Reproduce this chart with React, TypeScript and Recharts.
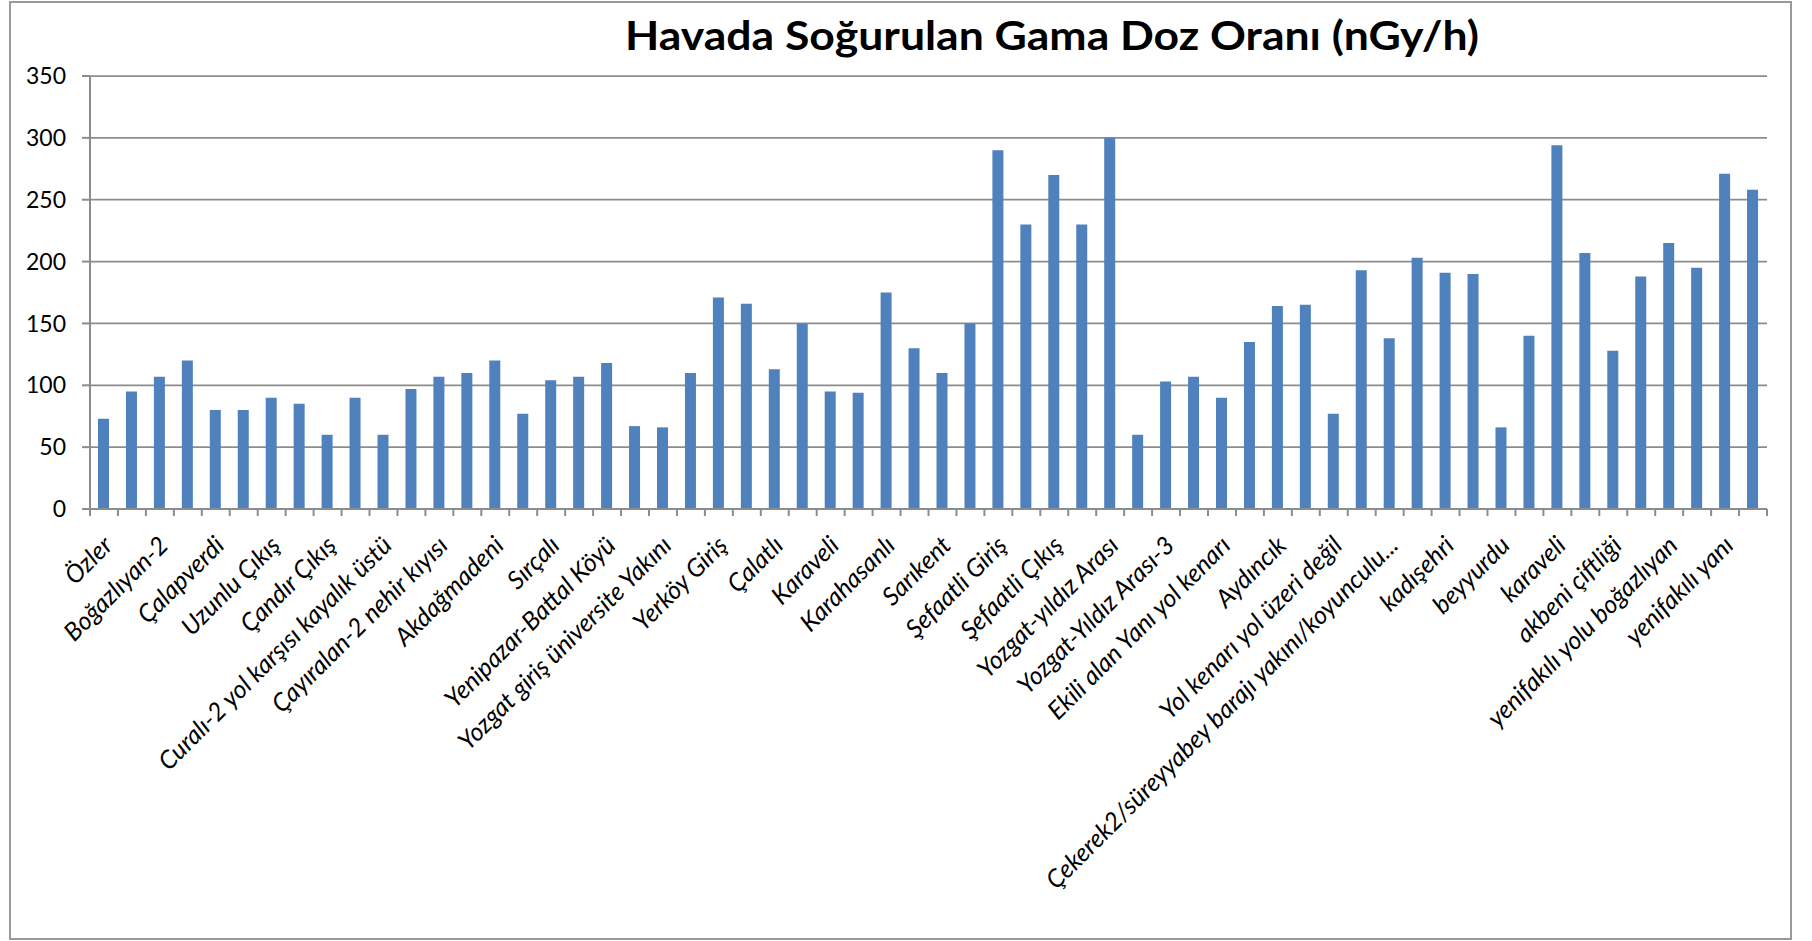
import { BarChart, Bar, XAxis, YAxis, CartesianGrid } from "recharts";

const W = 1812;
const H = 941;
const PLOT_LEFT = 90;
const PLOT_RIGHT = 1767;
const PLOT_TOP = 76;
const PLOT_BOTTOM = 509;
const STEP = (PLOT_RIGHT - PLOT_LEFT) / 60;
const GRID = "#8c8c8c";
const FONT = "Lato, 'Open Sans', sans-serif";

// only every other category is labelled in the original; the rest stay blank
const locations = [
  "Özler", "",
  "Boğazlıyan-2", "",
  "Çalapverdi", "",
  "Uzunlu Çıkış", "",
  "Çandır Çıkış", "",
  "Curalı-2 yol karşısı kayalık üstü", "",
  "Çayıralan-2 nehir kıyısı", "",
  "Akdağmadeni", "",
  "Sırçalı", "",
  "Yenipazar-Battal Köyü", "",
  "Yozgat giriş üniversite Yakını", "",
  "Yerköy Giriş", "",
  "Çalatlı", "",
  "Karaveli", "",
  "Karahasanlı", "",
  "Sarıkent", "",
  "Şefaatli Giriş", "",
  "Şefaatli Çıkış", "",
  "Yozgat-yıldız Arası", "",
  "Yozgat-Yıldız Arası-3", "",
  "Ekili alan Yanı yol kenarı", "",
  "Aydıncık", "",
  "Yol kenarı yol üzeri değil", "",
  "Çekerek2/süreyyabey barajı yakını/koyunculu...", "",
  "kadışehri", "",
  "beyyurdu", "",
  "karaveli", "",
  "akbeni çiftliği", "",
  "yenifakılı yolu boğazlıyan", "",
  "yenifakılı yanı", "",
];

const doseRate = [
  73, 95, 107, 120, 80, 80, 90, 85, 60, 90,
  60, 97, 107, 110, 120, 77, 104, 107, 118, 67,
  66, 110, 171, 166, 113, 150, 95, 94, 175, 130,
  110, 150, 290, 230, 270, 230, 300, 60, 103, 107,
  90, 135, 164, 165, 77, 193, 138, 203, 191, 190,
  66, 140, 294, 207, 128, 188, 215, 195, 271, 258,
];

const yTicks = [0, 50, 100, 150, 200, 250, 300, 350];

const data = locations.map((name, i) => ({ name, value: doseRate[i] }));

const CategoryTick = (props: any) => {
  const { x, y, index, payload } = props;
  const left = x - STEP / 2;
  const label = payload.value as string;
  const ax = x + 10;
  const ay = y + 38;
  return (
    <g>
      <line x1={left} y1={y} x2={left} y2={y + 7} stroke={GRID} strokeWidth={2} />
      {index === locations.length - 1 && (
        <line x1={x + STEP / 2} y1={y} x2={x + STEP / 2} y2={y + 7} stroke={GRID} strokeWidth={2} />
      )}
      {label && (
        <text
          x={ax}
          y={ay}
          textAnchor="end"
          transform={`rotate(-45 ${ax} ${ay})`}
          fontFamily={FONT}
          fontStyle="italic"
          fontSize={25}
          fill="#000"
        >
          {label}
        </text>
      )}
    </g>
  );
};

export default function App() {
  return (
    <div style={{ position: "absolute", left: 0, top: 0, width: W, height: H, background: "#fff", overflow: "hidden" }}>
      <div
        style={{
          position: "absolute",
          left: 9,
          top: 1,
          width: 1783,
          height: 939,
          border: "2px solid #9a9a9a",
          boxSizing: "border-box",
        }}
      />
      <svg style={{ position: "absolute", left: 0, top: 0 }} width={W} height={70}>
        <text
          x={625}
          y={50}
          textLength={854}
          lengthAdjust="spacingAndGlyphs"
          fontFamily={FONT}
          fontWeight={700}
          fontSize={41}
          fill="#000"
        >
          Havada Soğurulan Gama Doz Oranı (nGy/h)
        </text>
      </svg>
      <div style={{ position: "absolute", left: 0, top: 0 }}>
        <BarChart
          width={W}
          height={H}
          data={data}
          barSize={11}
          margin={{ top: PLOT_TOP, right: W - PLOT_RIGHT, left: PLOT_LEFT - 60, bottom: H - PLOT_BOTTOM - 30 }}
        >
          <CartesianGrid vertical={false} stroke={GRID} strokeWidth={1.75} />
          <XAxis
            dataKey="name"
            interval={0}
            height={30}
            tickSize={0}
            tickMargin={0}
            tickLine={false}
            axisLine={{ stroke: GRID, strokeWidth: 2 }}
            tick={<CategoryTick />}
          />
          <YAxis
            width={60}
            domain={[0, 350]}
            ticks={yTicks}
            interval={0}
            tickSize={8}
            tickMargin={16}
            axisLine={{ stroke: GRID, strokeWidth: 2 }}
            tickLine={{ stroke: GRID, strokeWidth: 2 }}
            tick={{ fontFamily: FONT, fontSize: 23, fill: "#000" }}
          />
          <Bar dataKey="value" fill="#4F81BD" isAnimationActive={false} />
        </BarChart>
      </div>
    </div>
  );
}
